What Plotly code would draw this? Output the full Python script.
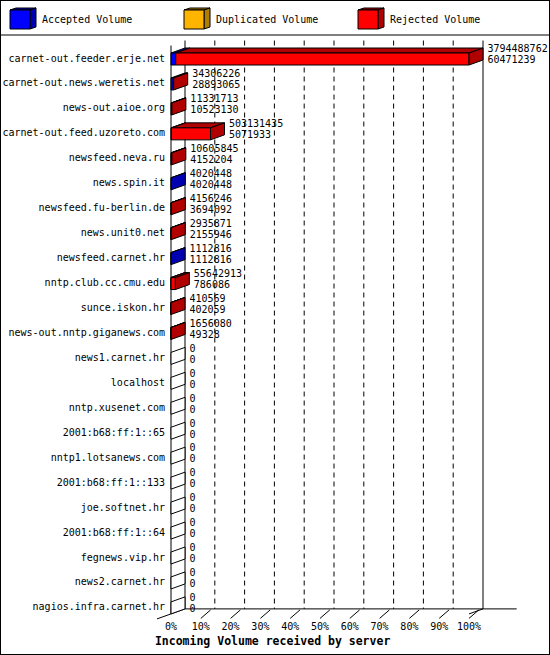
import plotly.graph_objects as go

servers = [
    "carnet-out.feeder.erje.net", "carnet-out.news.weretis.net", "news-out.aioe.org",
    "carnet-out.feed.uzoreto.com", "newsfeed.neva.ru", "news.spin.it",
    "newsfeed.fu-berlin.de", "news.unit0.net", "newsfeed.carnet.hr",
    "nntp.club.cc.cmu.edu", "sunce.iskon.hr", "news-out.nntp.giganews.com",
    "news1.carnet.hr", "localhost", "nntp.xusenet.com", "2001:b68:ff:1::65",
    "nntp1.lotsanews.com", "2001:b68:ff:1::133", "joe.softnet.hr",
    "2001:b68:ff:1::64", "fegnews.vip.hr", "news2.carnet.hr", "nagios.infra.carnet.hr",
]
total_volume = [
    3794488762, 34306226, 11331713, 503131435, 10605845, 4020448, 4156246,
    2935871, 1112816, 55642913, 410569, 1656080,
    0, 0, 0, 0, 0, 0, 0, 0, 0, 0, 0,
]
accepted_volume = [
    60471239, 28893065, 10523130, 5071933, 4152204, 4020448, 3694092,
    2155946, 1112816, 786086, 402059, 49328,
    0, 0, 0, 0, 0, 0, 0, 0, 0, 0, 0,
]
duplicated_volume = [0] * len(servers)
series_names = ["Accepted Volume", "Duplicated Volume", "Rejected Volume"]
tick_values = list(range(0, 101, 10))
tick_labels = [f"{v}%" for v in tick_values]

FRONT = {"Accepted Volume": "#0000FF", "Duplicated Volume": "#FFB400", "Rejected Volume": "#FF0000"}
DARK = {"Accepted Volume": "#0000B0", "Duplicated Volume": "#B07E00", "Rejected Volume": "#B00000"}

# geometry (axis units: x in percent of max, y in rows)
PX_PER_PCT = 2.98
ROW_PX = 24.95
DX = 14 / PX_PER_PCT
DY = 5 / ROW_PX
HALF = 6 / ROW_PX
FONT = "DejaVu Sans Mono"

n = len(servers)
vmax = max(total_volume)
floor_front = n - 1 + HALF
floor_back = floor_front - DY
wall_top = -0.54

fig = go.Figure()


def poly(xs, ys, fill, width=1):
    fig.add_trace(go.Scatter(
        x=xs + [xs[0]], y=ys + [ys[0]], mode="lines", fill="toself", fillcolor=fill,
        line=dict(color="black", width=width), hoverinfo="skip", showlegend=False,
    ))


def seg(xs, ys, dash="solid"):
    fig.add_trace(go.Scatter(
        x=xs, y=ys, mode="lines", line=dict(color="black", width=1, dash=dash),
        hoverinfo="skip", showlegend=False,
    ))


# walls and grid
seg([DX, DX], [wall_top - DY, floor_back])
seg([100 + DX, 100 + DX], [wall_top - DY, floor_back])
for p in tick_values[1:-1]:
    seg([p + DX, p + DX], [wall_top - DY, floor_back], dash="5px,4px")
seg([0, 0], [wall_top, floor_front])
seg([DX, 116], [floor_back, floor_back])
seg([-DX, DX], [floor_front + DY, floor_back])
seg([100, 100 + DX], [floor_front, floor_back])
for p in tick_values[1:]:
    seg([p, p + 3.3], [floor_front + 0.18, floor_back + 0.04])

# bars
for i in range(n):
    ytop, ybot = i - HALF, i + HALF
    if total_volume[i] == 0:
        poly([0, DX, DX, 0], [ytop, ytop - DY, ybot - DY, ybot], "white")
    else:
        bounds = [0, accepted_volume[i], accepted_volume[i] + duplicated_volume[i], total_volume[i]]
        parts = []
        for k, name in enumerate(series_names):
            if bounds[k + 1] > bounds[k]:
                parts.append((bounds[k] / vmax * 100, bounds[k + 1] / vmax * 100, name))
        for x0, x1, name in parts:
            poly([x0, x1, x1 + DX, x0 + DX], [ytop, ytop, ytop - DY, ytop - DY], DARK[name])
            poly([x0, x1, x1, x0], [ytop, ytop, ybot, ybot], FRONT[name])
        x1, name = parts[-1][1], parts[-1][2]
        poly([x1, x1 + DX, x1 + DX, x1], [ytop, ytop - DY, ybot - DY, ybot], DARK[name])

# labels
rows = list(range(n))
fig.add_trace(go.Scatter(
    x=[-2.0] * n, y=rows, text=servers, mode="text", textposition="middle left",
    textfont=dict(family=FONT, size=10, color="black"), hoverinfo="skip", showlegend=False,
))
label_x = [t / vmax * 100 + DX + 1.5 for t in total_volume]
fig.add_trace(go.Scatter(
    x=label_x, y=[r - 0.37 for r in rows], text=[str(v) for v in total_volume],
    mode="text", textposition="middle right",
    textfont=dict(family=FONT, size=10, color="black"), hoverinfo="skip", showlegend=False,
))
fig.add_trace(go.Scatter(
    x=label_x, y=[r + 0.07 for r in rows], text=[str(v) for v in accepted_volume],
    mode="text", textposition="middle right",
    textfont=dict(family=FONT, size=10, color="black"), hoverinfo="skip", showlegend=False,
))
fig.add_trace(go.Scatter(
    x=tick_values, y=[floor_front + 0.53] * len(tick_values), text=tick_labels,
    mode="text", textposition="middle center",
    textfont=dict(family=FONT, size=10, color="black"), hoverinfo="skip", showlegend=False,
))
fig.add_trace(go.Scatter(
    x=[-5.4], y=[floor_front + 1.13], text=["<b>Incoming Volume received by server</b>"],
    mode="text", textposition="middle right",
    textfont=dict(family=FONT, size=11.5, color="black"), hoverinfo="skip", showlegend=False,
))

# legend cubes on a pixel-sized overlay axis
for k, name in enumerate(series_names):
    x0 = 10 + k * 174
    fig.add_trace(go.Scatter(
        x=[x0, x0 + 20, x0 + 26, x0 + 6, x0], y=[10, 10, 8, 8, 10], mode="lines", fill="toself",
        fillcolor=DARK[name], line=dict(color="black", width=1), xaxis="x2", yaxis="y2",
        hoverinfo="skip", showlegend=False,
    ))
    fig.add_trace(go.Scatter(
        x=[x0 + 20, x0 + 26, x0 + 26, x0 + 20, x0 + 20], y=[10, 8, 27, 29, 10], mode="lines",
        fill="toself", fillcolor=DARK[name], line=dict(color="black", width=1),
        xaxis="x2", yaxis="y2", hoverinfo="skip", showlegend=False,
    ))
    fig.add_trace(go.Scatter(
        x=[x0, x0 + 20, x0 + 20, x0, x0], y=[10, 10, 29, 29, 10], mode="lines", fill="toself",
        fillcolor=FRONT[name], line=dict(color="black", width=1), xaxis="x2", yaxis="y2",
        hoverinfo="skip", showlegend=False,
    ))
    fig.add_trace(go.Scatter(
        x=[x0 + 32], y=[20], text=[name], mode="text", textposition="middle right",
        textfont=dict(family=FONT, size=10, color="black"), xaxis="x2", yaxis="y2",
        hoverinfo="skip", showlegend=False,
    ))

fig.update_layout(
    width=550,
    height=655,
    margin=dict(l=0, r=0, t=0, b=0),
    paper_bgcolor="white",
    plot_bgcolor="white",
    showlegend=False,
    xaxis=dict(range=[-171 / PX_PER_PCT, (550 - 171) / PX_PER_PCT], visible=False, fixedrange=True),
    yaxis=dict(range=[(655 - 59) / ROW_PX, -59 / ROW_PX], visible=False, fixedrange=True),
    xaxis2=dict(range=[0, 550], overlaying="x", visible=False, fixedrange=True),
    yaxis2=dict(range=[655, 0], overlaying="y", visible=False, fixedrange=True),
    shapes=[
        dict(type="rect", xref="paper", yref="paper", x0=0, x1=1, y0=0, y1=1,
             line=dict(color="black", width=2)),
        dict(type="line", xref="paper", yref="paper", x0=0, x1=1,
             y0=1 - 35 / 655, y1=1 - 35 / 655, line=dict(color="black", width=1)),
    ],
)

# the page's default body margin would push the 550x655 figure out of the window
fig.write_html(
    "out.html",
    config={"displayModeBar": False},
    post_script="document.body.style.margin = '0';",
)
